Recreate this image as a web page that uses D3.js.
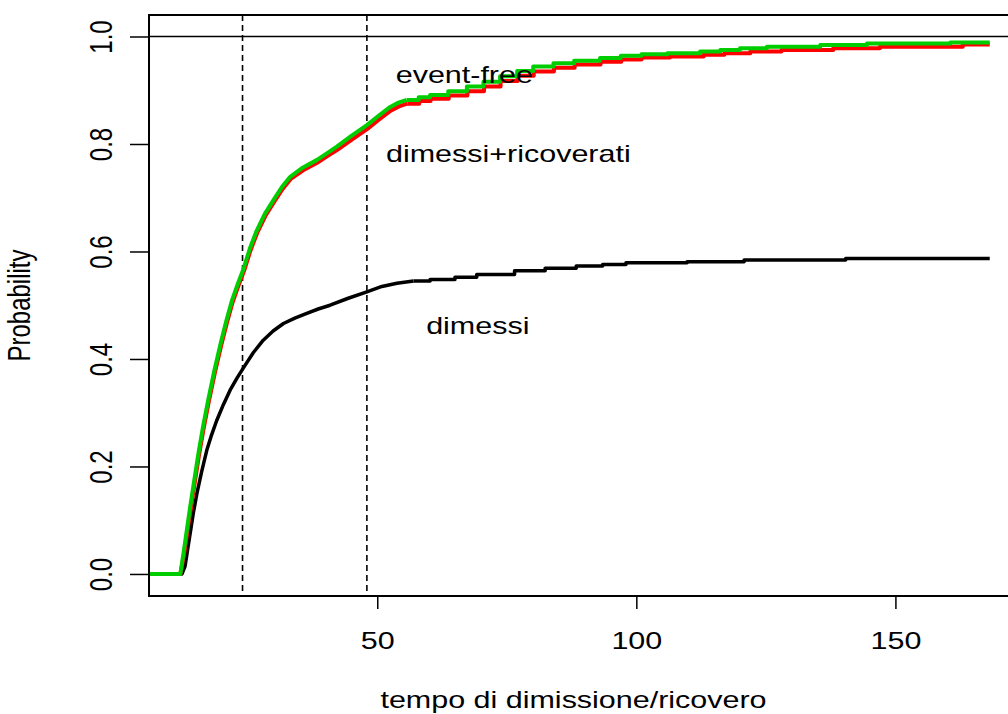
<!DOCTYPE html>
<html>
<head>
<meta charset="utf-8">
<script src="https://cdn.jsdelivr.net/npm/d3@7"></script>
<style>
  html, body { margin: 0; padding: 0; background: #fff; }
  svg { display: block; }
  text { font-family: "Liberation Sans", Arial, Helvetica, sans-serif; fill: #000; }
</style>
</head>
<body>
<svg id="chart" width="1008" height="714"></svg>
<script>
// ---- data ----
const greenTime = [6, 12, 12.6, 13.3, 13.9, 14.7, 15.5, 16.4, 17.4, 18.6, 19.8, 20.9, 22.0, 23.1, 24.2, 25.4, 26.7, 28.3, 30, 31.6, 33.2, 35.6, 38.3, 40.2, 42.2, 45, 48, 50.2, 52.5, 54.1, 55.7, 58, 60.2, 63.7, 67.3, 70.5, 73.7, 77, 80.1, 84, 88, 93, 97, 101, 106, 112.3, 116.2, 120, 125.2, 135.5, 144.5, 160.6, 168.2];
const greenProb = [0, 0, 0.038, 0.085, 0.125, 0.175, 0.225, 0.275, 0.325, 0.38, 0.43, 0.472, 0.51, 0.54, 0.568, 0.605, 0.638, 0.67, 0.696, 0.72, 0.739, 0.756, 0.77, 0.782, 0.795, 0.815, 0.835, 0.852, 0.869, 0.877, 0.882, 0.887, 0.891, 0.898, 0.907, 0.916, 0.926, 0.936, 0.944, 0.950, 0.955, 0.96, 0.964, 0.967, 0.969, 0.972, 0.975, 0.978, 0.981, 0.984, 0.987, 0.989, 0.989];

const redTime = [6, 12, 12.7, 13.4, 14, 14.8, 15.6, 16.5, 17.5, 18.7, 19.9, 21, 22.1, 23.2, 24.3, 25.5, 26.8, 28.4, 30.1, 31.7, 33.3, 35.7, 38.4, 40.3, 42.3, 45.1, 48.1, 50.3, 52.6, 54.2, 55.8, 58.1, 60.3, 63.8, 67.4, 70.6, 73.8, 77.1, 80.2, 84.1, 88.1, 93.1, 97.1, 101, 106.5, 113, 117, 122, 128, 138, 147, 163, 168.2];
const redProb = [0, 0, 0.035, 0.082, 0.121, 0.171, 0.221, 0.271, 0.321, 0.376, 0.426, 0.468, 0.506, 0.536, 0.564, 0.601, 0.634, 0.666, 0.692, 0.716, 0.735, 0.751, 0.765, 0.777, 0.789, 0.808, 0.828, 0.845, 0.862, 0.87, 0.875, 0.88, 0.884, 0.89, 0.898, 0.907, 0.917, 0.927, 0.935, 0.942, 0.948, 0.953, 0.957, 0.961, 0.963, 0.966, 0.969, 0.972, 0.975, 0.978, 0.981, 0.985, 0.985];

const blackTime = [6, 12.3, 12.9, 13.4, 13.9, 14.5, 15.2, 16.1, 17.1, 18, 19, 20.3, 21.6, 22.9, 24.2, 26.1, 28, 29.9, 31.9, 34.1, 36.4, 38.6, 40.9, 44.4, 48, 50.9, 53.8, 57, 60.2, 65, 69.2, 76.5, 82.4, 88.4, 93.5, 98, 109.8, 120.8, 140.4, 168.2];
const blackProb = [0, 0, 0.014, 0.045, 0.076, 0.113, 0.15, 0.19, 0.23, 0.258, 0.285, 0.315, 0.342, 0.364, 0.384, 0.412, 0.435, 0.452, 0.466, 0.476, 0.485, 0.493, 0.50, 0.513, 0.525, 0.535, 0.541, 0.545, 0.548, 0.552, 0.557, 0.564, 0.569, 0.573, 0.576, 0.579, 0.581, 0.584, 0.587, 0.587];

const xTicks = [50, 100, 150];
const yTicks = [0, 0.2, 0.4, 0.6, 0.8, 1.0];
const yTickLabels = ["0.0", "0.2", "0.4", "0.6", "0.8", "1.0"];
const vLines = [24, 48];
const labelText = ["event-free", "dimessi+ricoverati", "dimessi"];
const labelT = [66.8, 75.3, 69.4];
const labelP = [0.9135, 0.7665, 0.4465];
// beyond this time the (sparse) steps of the curves are visible; before it they are too fine to see
const stepFrom = 55;

// ---- layout ----
const svg = d3.select("#chart");
const L = 149, R = 1012, T = 15, B = 596;
const SX = 1.27; // horizontal stretch of the original rendering
const x = d3.scaleLinear().domain([5.95, 172.5]).range([L, R]);
const y = d3.scaleLinear().domain([-0.041, 1.04]).range([B, T]);

const lineSmooth = d3.line().x(d => x(d[0])).y(d => y(d[1])).curve(d3.curveLinear);
const lineStep = d3.line().x(d => x(d[0])).y(d => y(d[1])).curve(d3.curveStepAfter);
const zip = (a, b) => a.map((v, i) => [v, b[i]]);

// horizontal line at 1
svg.append("line").attr("x1", L).attr("x2", R).attr("y1", y(1)).attr("y2", y(1))
  .attr("stroke", "#000").attr("stroke-width", 1.3);

// dashed verticals
svg.selectAll("line.v").data(vLines).enter().append("line")
  .attr("x1", d => x(d)).attr("x2", d => x(d)).attr("y1", T).attr("y2", B)
  .attr("stroke", "#000").attr("stroke-width", 1.6).attr("stroke-dasharray", "6,4");

function drawCurve(times, probs, color, width) {
  const pts = zip(times, probs);
  const k = pts.findIndex(d => d[0] >= stepFrom);
  const early = pts.slice(0, k + 1);
  const late = pts.slice(k);
  const g = svg.append("g").attr("fill", "none").attr("stroke", color)
    .attr("stroke-width", width).attr("stroke-linejoin", "round");
  g.append("path").datum(early).attr("d", lineSmooth);
  g.append("path").datum(late).attr("d", lineStep);
}

drawCurve(blackTime, blackProb, "#000", 3.5);
drawCurve(redTime, redProb, "#ff0000", 4);
drawCurve(greenTime, greenProb, "#00cd00", 4);

// box
svg.append("rect").attr("x", L).attr("y", T).attr("width", R - L).attr("height", B - T)
  .attr("fill", "none").attr("stroke", "#000").attr("stroke-width", 2);

// x axis
const xAxis = d3.axisBottom(x).tickValues(xTicks).tickSize(13).tickPadding(0).tickFormat(d3.format("d"));
const gx = svg.append("g").attr("transform", `translate(0,${B})`).call(xAxis);
gx.select(".domain").remove();
gx.selectAll(".tick line").attr("stroke", "#000").attr("stroke-width", 1.5);
gx.selectAll(".tick text").attr("y", 0).attr("dy", null)
  .attr("transform", `translate(0,53) scale(${SX},1)`)
  .attr("font-size", 24).attr("text-anchor", "middle");

// y axis
const yAxis = d3.axisLeft(y).tickValues(yTicks).tickSize(19).tickFormat((d, i) => yTickLabels[i]);
const gy = svg.append("g").attr("transform", `translate(${L},0)`).call(yAxis);
gy.select(".domain").remove();
gy.selectAll(".tick line").attr("stroke", "#000").attr("stroke-width", 1.5);
gy.selectAll(".tick text").attr("x", null).attr("dy", null)
  .attr("transform", `translate(-37,0) scale(${SX},1) rotate(-90)`)
  .attr("font-size", 24).attr("text-anchor", "middle");

// axis titles
svg.append("text").attr("transform", `translate(${(L + 1008) / 2 - 5},708) scale(${SX},1)`)
  .attr("font-size", 24).attr("text-anchor", "middle").text("tempo di dimissione/ricovero");
svg.append("text").attr("transform", `translate(30,${(T + B) / 2}) scale(${SX},1) rotate(-90)`)
  .attr("font-size", 24).attr("text-anchor", "middle").text("Probability");

// curve labels
labelText.forEach((t, i) => {
  svg.append("text")
    .attr("transform", `translate(${x(labelT[i])},${y(labelP[i])}) scale(${SX},1)`)
    .attr("font-size", 24).attr("text-anchor", "middle").text(t);
});
</script>
</body>
</html>
